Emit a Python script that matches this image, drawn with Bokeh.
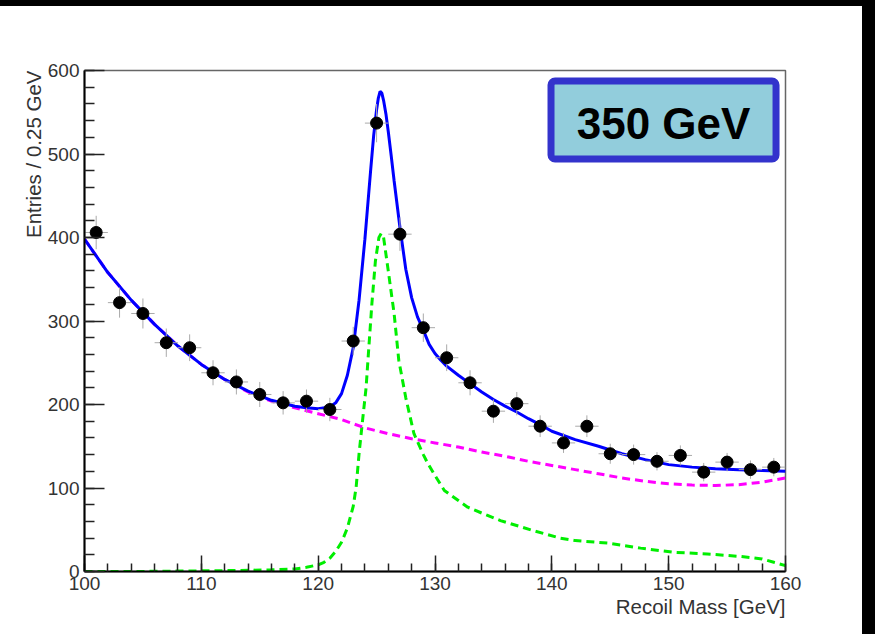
from bokeh.plotting import figure
from bokeh.models import Range1d, SingleIntervalTicker, Title, BoxAnnotation, Label, Div
from bokeh.layouts import column, row
from bokeh.embed import file_html
from bokeh.resources import INLINE

# ---- data ----
mass = [101, 103, 105, 107, 109, 111, 113, 115, 117, 119, 121, 123, 125, 127, 129,
        131, 133, 135, 137, 139, 141, 143, 145, 147, 149, 151, 153, 155, 157, 159]
entries = [406, 322, 309, 274, 268, 238, 227, 212, 202, 204, 194, 276, 537, 404, 292,
           256, 226, 192, 201, 174, 154, 174, 141, 140, 132, 139, 119, 131, 122, 125]
errors = [20, 18, 18, 17, 16, 15, 15, 15, 14, 14, 14, 17, 23, 20, 17,
          16, 15, 14, 14, 13, 12, 13, 12, 12, 11, 12, 11, 11, 11, 11]
bin_half = 1.0

fit_x = [100, 102, 104, 106, 108, 110, 112, 114, 116, 118, 119, 120, 121, 121.5, 122, 122.5,
         123, 123.5, 124, 124.5, 124.75, 125, 125.15, 125.3, 125.45, 125.6, 125.8, 126, 126.25,
         126.5, 127, 127.5, 128, 128.5, 129, 129.5, 130, 130.5, 131, 132, 133, 134, 135, 136,
         137, 138, 139, 140, 142, 144, 146, 148, 150, 152, 154, 156, 158, 160]
fit_total = [398, 358, 325, 296, 270, 248, 230, 216, 205, 198, 196, 195, 197, 202, 213, 235,
             268, 325, 398, 482, 522, 553, 567, 575, 573, 564, 548, 527, 498,
             468, 412, 362, 328, 305, 289, 272, 261, 253, 246, 235, 225, 215, 206, 198,
             191, 183, 176, 168, 158, 150, 141, 134, 128, 125, 123, 122, 121, 120]

bkg_x = [100, 102, 104, 106, 108, 110, 112, 114, 116, 118, 120, 122, 124, 126, 128, 130,
         132, 134, 136, 138, 140, 142, 144, 146, 148, 150, 152, 154, 156, 158, 160]
bkg = [398, 358, 325, 296, 270, 248, 230, 215, 204, 196, 189, 182, 172, 165, 159, 154,
       149, 143, 138, 132, 127, 122, 117, 112, 108, 105, 103.5, 103, 104, 107, 112]

sig_x = [100, 104, 108, 112, 116, 118, 119, 120, 120.5, 121, 121.5, 122, 122.5, 123, 123.25,
         123.5, 123.8, 124.1, 124.3, 124.6, 124.9, 125.2, 125.4, 125.6, 126, 126.5, 126.9,
         127.5, 128.2, 129, 129.4, 130, 130.8, 132, 132.8, 134, 135.6, 138.4, 140.7, 142,
         144.8, 147.6, 150.4, 153.3, 156.2, 158, 159, 160]
sig = [0, 0, 0.5, 1, 2, 3, 5, 8, 11, 16, 24, 35, 52, 78, 101,
       141, 181, 220, 261, 321, 372, 400, 405, 400, 360, 309, 253,
       208, 165, 140, 129, 115, 97, 85, 77, 70, 61, 49, 40, 37,
       34, 28, 23, 21, 18, 15, 11, 7]

x_title = "Recoil Mass [GeV]"
y_title = "Entries / 0.25 GeV"
box_text = "350 GeV"

FONT = "Liberation Sans"

p = figure(width=862, height=628, x_range=Range1d(100, 160), y_range=Range1d(0, 600),
           output_backend="svg", toolbar_location=None,
           min_border_left=84, min_border_right=77, min_border_top=64, min_border_bottom=63)
p.background_fill_color = "white"
p.border_fill_color = "white"
p.xgrid.visible = False
p.ygrid.visible = False
p.outline_line_color = "#666666"
p.outline_line_width = 1.5

p.xaxis.ticker = SingleIntervalTicker(interval=10, num_minor_ticks=5)
p.yaxis.ticker = SingleIntervalTicker(interval=100, num_minor_ticks=5)
for ax in (p.xaxis[0], p.yaxis[0]):
    ax.axis_line_color = "black"
    ax.axis_line_width = 2
    ax.major_tick_line_color = "#222222"
    ax.minor_tick_line_color = "#222222"
    ax.major_tick_line_width = 1.5
    ax.minor_tick_line_width = 1.5
    ax.major_tick_out = 0
    ax.minor_tick_out = 0
    ax.major_label_text_font = FONT
    ax.major_label_text_font_size = "19px"
    ax.major_label_text_color = "#333333"
p.xaxis.major_tick_in = 16
p.xaxis.minor_tick_in = 8
p.yaxis.major_tick_in = 20
p.yaxis.minor_tick_in = 10
p.xaxis.major_label_standoff = 5
p.yaxis.major_label_standoff = 5

tx = Title(text=x_title, align="right", text_font=FONT, text_font_size="20.5px",
           text_font_style="normal", text_color="#333333", standoff=0, offset=0)
p.add_layout(tx, "below")
ty = Title(text=y_title, align="right", text_font=FONT, text_font_size="20.5px",
           text_font_style="normal", text_color="#333333", standoff=0, offset=0)
p.add_layout(ty, "left")

# curves
p.line(sig_x, sig, line_color="#00ee00", line_width=3, line_dash="8 5")
p.line(bkg_x, bkg, line_color="#ff00ff", line_width=3, line_dash="8 5")
p.line(fit_x, fit_total, line_color="#0000ff", line_width=3)

# data points with error bars
p.segment(x0=[m - bin_half for m in mass], y0=entries, x1=[m + bin_half for m in mass], y1=entries,
          line_color="#aaaaaa", line_width=1)
p.segment(x0=mass, y0=[n - e for n, e in zip(entries, errors)], x1=mass,
          y1=[n + e for n, e in zip(entries, errors)], line_color="#aaaaaa", line_width=1)
p.scatter(mass, entries, size=12, marker="circle", fill_color="black", line_color="black")

# energy box
box = BoxAnnotation(left=139.93, right=159.19, top=587.4, bottom=494.0,
                    fill_color="#92CDDC", fill_alpha=1.0, line_color="#3333CC",
                    line_width=7, line_alpha=1.0, border_radius=4)
p.add_layout(box)
lab = Label(x=149.56, y=537, text=box_text, text_align="center", text_baseline="middle",
            text_font=FONT, text_font_size="44px", text_font_style="bold", text_color="black")
p.add_layout(lab)

top_bar = Div(width=875, height=6, margin=0, styles={"background-color": "black"})
right_bar = Div(width=13, height=628, margin=0, styles={"background-color": "black"})
layout = column(top_bar, row(p, right_bar, spacing=0), spacing=0)

open("out.html", "w").write(file_html(layout, INLINE))
